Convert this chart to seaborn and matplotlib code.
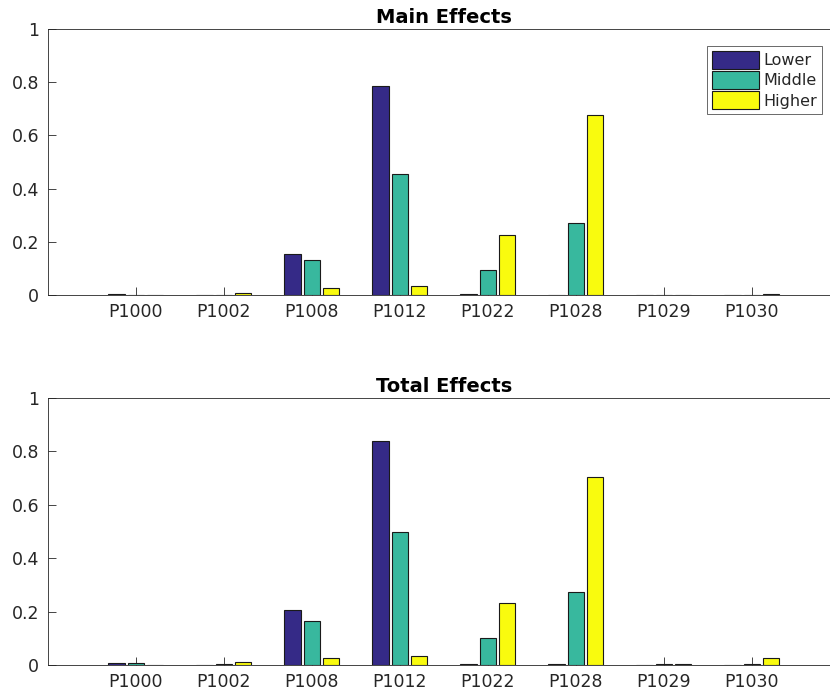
import matplotlib
matplotlib.use("Agg")
import matplotlib.pyplot as plt
import seaborn as sns
import pandas as pd

params = ["P1000", "P1002", "P1008", "P1012", "P1022", "P1028", "P1029", "P1030"]
levels = ["Lower", "Middle", "Higher"]

main_lower = [0.002, 0.0, 0.153, 0.786, 0.002, 0.001, 0.0, 0.0]
main_middle = [0.0, 0.0, 0.133, 0.455, 0.095, 0.270, 0.0, 0.0]
main_higher = [0.0, 0.008, 0.026, 0.032, 0.224, 0.677, 0.0, 0.002]

total_lower = [0.008, 0.001, 0.205, 0.840, 0.003, 0.003, 0.001, 0.001]
total_middle = [0.009, 0.004, 0.166, 0.498, 0.100, 0.275, 0.003, 0.004]
total_higher = [0.001, 0.013, 0.028, 0.035, 0.233, 0.705, 0.003, 0.027]

colors = ["#352a87", "#38b89e", "#f9fb0e"]


def long_df(lo, mi, hi):
    rows = []
    for name, vals in zip(levels, [lo, mi, hi]):
        for p, v in zip(params, vals):
            rows.append({"param": p, "level": name, "value": v})
    return pd.DataFrame(rows)


sns.set_style("white")
plt.rcParams["font.family"] = ["DejaVu Sans"]

fig = plt.figure(figsize=(8.3, 6.95), dpi=100)
W, H = 830, 695
left = 47.7 / W
width = 792 / W
ax1 = fig.add_axes([left, (H - 295) / H, width, 266 / H])
ax2 = fig.add_axes([left, (H - 665) / H, width, 267 / H])

for ax, data, title in [
    (ax1, long_df(main_lower, main_middle, main_higher), "Main Effects"),
    (ax2, long_df(total_lower, total_middle, total_higher), "Total Effects"),
]:
    sns.barplot(data=data, x="param", y="value", hue="level", order=params,
                hue_order=levels, palette=colors, width=0.655, gap=0.15,
                edgecolor="#1a1a1a", linewidth=0.8, ax=ax, errorbar=None,
                saturation=1)
    ax.set_xlim(-1, 8)
    ax.set_ylim(0, 1)
    ax.set_yticks([0, 0.2, 0.4, 0.6, 0.8, 1])
    ax.set_yticklabels(["0", "0.2", "0.4", "0.6", "0.8", "1"])
    ax.set_xlabel("")
    ax.set_ylabel("")
    ax.set_title(title, fontsize=14, fontweight="bold", pad=4, color="black")
    ax.tick_params(axis="both", direction="in", length=6, width=0.6,
                   color="#262626", labelsize=12.5, labelcolor="#262626",
                   pad=6, bottom=True, left=True, top=False, right=False)
    for s in ax.spines.values():
        s.set_color("#262626")
        s.set_linewidth(0.6)
    ax.set_facecolor("white")

ax2.get_legend().remove()
leg = ax1.legend(loc="upper right", bbox_to_anchor=(822 / W, 1 - 46 / H),
                 bbox_transform=fig.transFigure, borderaxespad=0,
                 fontsize=11.5, frameon=True, fancybox=False,
                 handlelength=3.0, handleheight=1.35, handletextpad=0.25,
                 labelspacing=0.15, borderpad=0.3)
leg.get_frame().set_edgecolor("#262626")
leg.get_frame().set_linewidth(0.6)

fig.savefig("out.png", dpi=100)
